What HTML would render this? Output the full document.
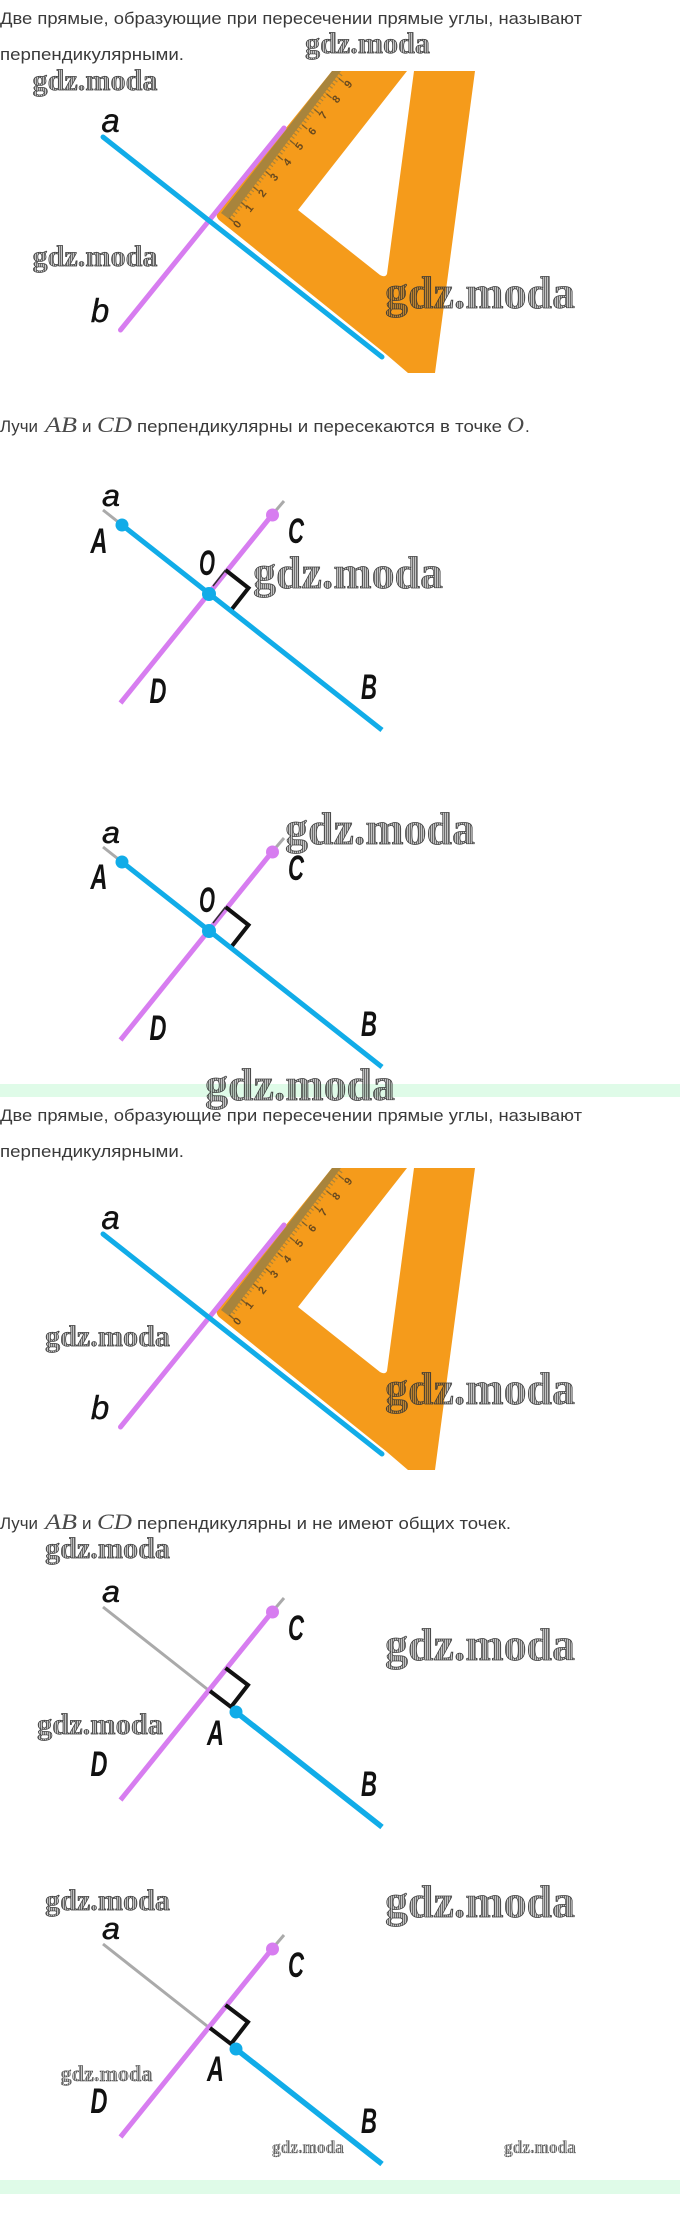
<!DOCTYPE html>
<html>
<head>
<meta charset="utf-8">
<style>
html,body{margin:0;padding:0;background:#fff;width:680px;height:2229px;overflow:hidden}
svg{display:block}
.t{font-family:"Liberation Sans",sans-serif;font-size:17px;fill:#3a3a3a}
.m{font-family:"Liberation Serif",serif;font-style:italic;font-size:22px;fill:#4a4a4a}
.w{font-family:"Liberation Serif",serif;font-weight:700;fill:url(#hatch);stroke:#3a3a3a;stroke-width:.7}
.l{font-family:"Liberation Sans",sans-serif;font-style:italic;font-weight:700;font-size:35px;fill:#111;text-anchor:middle}
.la{font-family:"Liberation Sans",sans-serif;font-style:italic;font-size:31px;fill:#111;stroke:#111;stroke-width:.5;text-anchor:middle}
.n{font-family:"Liberation Sans",sans-serif;font-style:italic;font-size:33px;fill:#111;stroke:#111;stroke-width:.4;text-anchor:middle}
.d{font-family:"Liberation Sans",sans-serif;font-weight:700;font-size:11px;fill:#6a4a1e;text-anchor:middle}
</style>
</head>
<body>
<svg width="680" height="2229" viewBox="0 0 680 2229" xmlns="http://www.w3.org/2000/svg">
<defs>
<pattern id="hatch" width="2" height="2" patternUnits="userSpaceOnUse">
<rect width="2" height="2" fill="#555" fill-opacity=".35"/>
<rect width="1" height="2" fill="#222" fill-opacity=".55"/>
</pattern>
<g id="tri">
<path d="M332,71 L407,71 L298,210 L380,275 Q385,278 387,274 L414,71 L475,71 L435,373 L408,373 L387,355 L219,220 Q215,216 218,212 Z" fill="#f59b1b"/>
<path d="M221,213 L229,219 L341,71 L332,71 Z" fill="#a8843c"/>
<line x1="230" y1="219" x2="342" y2="72" stroke="#a8843c" stroke-width="5" stroke-dasharray="1.2 2.74"/>
<g stroke="#7d5f2a" stroke-width="1.3">
<line x1="229" y1="218" x2="234" y2="222"/>
<line x1="241.2" y1="202.5" x2="246.2" y2="206.5"/>
<line x1="253.4" y1="187" x2="258.4" y2="191"/>
<line x1="265.6" y1="171.5" x2="270.6" y2="175.5"/>
<line x1="277.8" y1="156" x2="282.8" y2="160"/>
<line x1="290" y1="140.5" x2="295" y2="144.5"/>
<line x1="302.2" y1="125" x2="307.2" y2="129"/>
<line x1="314.4" y1="109.5" x2="319.4" y2="113.5"/>
<line x1="326.6" y1="94" x2="331.6" y2="98"/>
<line x1="338.8" y1="78.5" x2="343.8" y2="82.5"/>
</g>
</g>
<g id="lines1">
<line x1="120.5" y1="330" x2="284" y2="128" stroke="#d77df0" stroke-width="5" stroke-linecap="round"/>
<line x1="103" y1="137" x2="382" y2="357" stroke="#11ace8" stroke-width="5" stroke-linecap="round"/>
</g>
<g id="cross">
<line x1="103" y1="137" x2="122" y2="152" stroke="#aaa" stroke-width="3"/>
<line x1="272" y1="142" x2="284" y2="128" stroke="#aaa" stroke-width="3"/>
<line x1="120.5" y1="330" x2="272" y2="142" stroke="#d77df0" stroke-width="5"/>
<path d="M225.5,197 L248.5,215 L232,236" fill="none" stroke="#111" stroke-width="4"/>
<line x1="213" y1="213" x2="225.5" y2="197" stroke="#333" stroke-width="1.5"/>
<line x1="122" y1="152" x2="382" y2="357" stroke="#11ace8" stroke-width="5"/>
<circle cx="122" cy="152" r="6.5" fill="#11ace8"/>
<circle cx="272.5" cy="142" r="6.5" fill="#d77df0"/>
<circle cx="209" cy="221" r="7" fill="#11ace8"/>
</g>
<g id="sep">
<line x1="103" y1="137" x2="209" y2="220.5" stroke="#aaa" stroke-width="3"/>
<line x1="272" y1="142" x2="284" y2="128" stroke="#aaa" stroke-width="3"/>
<line x1="120.5" y1="330" x2="272" y2="142" stroke="#d77df0" stroke-width="5"/>
<path d="M225.5,198 L248,215 L231,237 L210,221" fill="none" stroke="#111" stroke-width="4"/>
<line x1="236" y1="242" x2="382" y2="357" stroke="#11ace8" stroke-width="5.5"/>
<circle cx="236" cy="242" r="6.5" fill="#11ace8"/>
<circle cx="272.5" cy="142" r="6.5" fill="#d77df0"/>
</g>
</defs>

<rect x="0" y="1084" width="680" height="13" fill="#dffbe8"/>
<rect x="0" y="2180" width="680" height="14" fill="#dffbe8"/>

<!-- Figure 1 -->
<text class="t" x="0" y="24" textLength="582" lengthAdjust="spacingAndGlyphs">Две прямые, образующие при пересечении прямые углы, называют</text>
<text class="t" x="0" y="60" textLength="184" lengthAdjust="spacingAndGlyphs">перпендикулярными.</text>
<use href="#tri"/>
<g>
<text class="d" transform="rotate(-52 237 224)" x="237" y="228">0</text>
<text class="d" transform="rotate(-52 249 208)" x="249" y="212">1</text>
<text class="d" transform="rotate(-52 262 193)" x="262" y="197">2</text>
<text class="d" transform="rotate(-52 274 177)" x="274" y="181">3</text>
<text class="d" transform="rotate(-52 287 162)" x="287" y="166">4</text>
<text class="d" transform="rotate(-52 299 146)" x="299" y="150">5</text>
<text class="d" transform="rotate(-52 312 131)" x="312" y="135">6</text>
<text class="d" transform="rotate(-52 323 115)" x="323" y="119">7</text>
<text class="d" transform="rotate(-52 336 99)" x="336" y="103">8</text>
<text class="d" transform="rotate(-52 348 84)" x="348" y="88">9</text>
</g>
<use href="#lines1"/>
<text class="n" x="110.5" y="132">a</text>
<text class="n" x="100" y="322">b</text>

<!-- Figure 2 -->
<text class="t" x="0" y="432" textLength="38" lengthAdjust="spacingAndGlyphs">Лучи</text>
<text class="m" x="45" y="432" textLength="32" lengthAdjust="spacingAndGlyphs">AB</text>
<text class="t" x="82" y="432">и</text>
<text class="m" x="97" y="432" textLength="35" lengthAdjust="spacingAndGlyphs">CD</text>
<text class="t" x="137" y="432" textLength="365" lengthAdjust="spacingAndGlyphs">перпендикулярны и пересекаются в точке</text>
<text class="m" x="507" y="432" textLength="17" lengthAdjust="spacingAndGlyphs">O</text>
<text class="t" x="525" y="432">.</text>
<use href="#cross" y="373"/>
<text class="la" x="111" y="506" textLength="18" lengthAdjust="spacingAndGlyphs">a</text>
<text class="l" x="99" y="553" textLength="17" lengthAdjust="spacingAndGlyphs">A</text>
<text class="l" x="296" y="543" textLength="16" lengthAdjust="spacingAndGlyphs">C</text>
<text class="l" x="207" y="575" textLength="16" lengthAdjust="spacingAndGlyphs">O</text>
<text class="l" x="158" y="703" textLength="17" lengthAdjust="spacingAndGlyphs">D</text>
<text class="l" x="369" y="699" textLength="16" lengthAdjust="spacingAndGlyphs">B</text>

<!-- Figure 3 -->
<use href="#cross" y="710"/>
<text class="la" x="111" y="843" textLength="18" lengthAdjust="spacingAndGlyphs">a</text>
<text class="l" x="99" y="889" textLength="17" lengthAdjust="spacingAndGlyphs">A</text>
<text class="l" x="296" y="880" textLength="16" lengthAdjust="spacingAndGlyphs">C</text>
<text class="l" x="207" y="912" textLength="16" lengthAdjust="spacingAndGlyphs">O</text>
<text class="l" x="158" y="1040" textLength="17" lengthAdjust="spacingAndGlyphs">D</text>
<text class="l" x="369" y="1036" textLength="16" lengthAdjust="spacingAndGlyphs">B</text>

<!-- Figure 4 -->
<text class="t" x="0" y="1121" textLength="582" lengthAdjust="spacingAndGlyphs">Две прямые, образующие при пересечении прямые углы, называют</text>
<text class="t" x="0" y="1157" textLength="184" lengthAdjust="spacingAndGlyphs">перпендикулярными.</text>
<use href="#tri" y="1097"/>
<g>
<text class="d" transform="rotate(-52 237 1321)" x="237" y="1325">0</text>
<text class="d" transform="rotate(-52 249 1305)" x="249" y="1309">1</text>
<text class="d" transform="rotate(-52 262 1290)" x="262" y="1294">2</text>
<text class="d" transform="rotate(-52 274 1274)" x="274" y="1278">3</text>
<text class="d" transform="rotate(-52 287 1259)" x="287" y="1263">4</text>
<text class="d" transform="rotate(-52 299 1243)" x="299" y="1247">5</text>
<text class="d" transform="rotate(-52 312 1228)" x="312" y="1232">6</text>
<text class="d" transform="rotate(-52 323 1212)" x="323" y="1216">7</text>
<text class="d" transform="rotate(-52 336 1196)" x="336" y="1200">8</text>
<text class="d" transform="rotate(-52 348 1181)" x="348" y="1185">9</text>
</g>
<use href="#lines1" y="1097"/>
<text class="n" x="110.5" y="1229">a</text>
<text class="n" x="100" y="1419">b</text>

<!-- Figure 5 -->
<text class="t" x="0" y="1529" textLength="38" lengthAdjust="spacingAndGlyphs">Лучи</text>
<text class="m" x="45" y="1529" textLength="32" lengthAdjust="spacingAndGlyphs">AB</text>
<text class="t" x="82" y="1529">и</text>
<text class="m" x="97" y="1529" textLength="35" lengthAdjust="spacingAndGlyphs">CD</text>
<text class="t" x="137" y="1529" textLength="374" lengthAdjust="spacingAndGlyphs">перпендикулярны и не имеют общих точек.</text>
<use href="#sep" y="1470"/>
<text class="la" x="111" y="1602" textLength="18" lengthAdjust="spacingAndGlyphs">a</text>
<text class="l" x="296" y="1640" textLength="16" lengthAdjust="spacingAndGlyphs">C</text>
<text class="l" x="215.5" y="1745" textLength="17" lengthAdjust="spacingAndGlyphs">A</text>
<text class="l" x="99" y="1776" textLength="17" lengthAdjust="spacingAndGlyphs">D</text>
<text class="l" x="369" y="1796" textLength="16" lengthAdjust="spacingAndGlyphs">B</text>

<!-- Figure 6 -->
<use href="#sep" y="1807"/>
<text class="la" x="111" y="1939" textLength="18" lengthAdjust="spacingAndGlyphs">a</text>
<text class="l" x="296" y="1977" textLength="16" lengthAdjust="spacingAndGlyphs">C</text>
<text class="l" x="215.5" y="2081" textLength="17" lengthAdjust="spacingAndGlyphs">A</text>
<text class="l" x="99" y="2113" textLength="17" lengthAdjust="spacingAndGlyphs">D</text>
<text class="l" x="369" y="2133" textLength="16" lengthAdjust="spacingAndGlyphs">B</text>

<!-- Watermarks -->
<g>
<text class="w" x="305" y="53" font-size="30" textLength="125" lengthAdjust="spacingAndGlyphs">gdz.moda</text>
<text class="w" x="32.5" y="90" font-size="30" textLength="125" lengthAdjust="spacingAndGlyphs">gdz.moda</text>
<text class="w" x="32.5" y="266" font-size="30" textLength="125" lengthAdjust="spacingAndGlyphs">gdz.moda</text>
<text class="w" x="385" y="308" font-size="46" textLength="190" lengthAdjust="spacingAndGlyphs">gdz.moda</text>
<text class="w" x="253" y="588" font-size="46" textLength="190" lengthAdjust="spacingAndGlyphs">gdz.moda</text>
<text class="w" x="285" y="844" font-size="46" textLength="190" lengthAdjust="spacingAndGlyphs">gdz.moda</text>
<text class="w" x="205" y="1100" font-size="46" textLength="190" lengthAdjust="spacingAndGlyphs">gdz.moda</text>
<text class="w" x="45" y="1346" font-size="30" textLength="125" lengthAdjust="spacingAndGlyphs">gdz.moda</text>
<text class="w" x="385" y="1404" font-size="46" textLength="190" lengthAdjust="spacingAndGlyphs">gdz.moda</text>
<text class="w" x="45" y="1558" font-size="30" textLength="125" lengthAdjust="spacingAndGlyphs">gdz.moda</text>
<text class="w" x="37" y="1734" font-size="30" textLength="126" lengthAdjust="spacingAndGlyphs">gdz.moda</text>
<text class="w" x="385" y="1660" font-size="46" textLength="190" lengthAdjust="spacingAndGlyphs">gdz.moda</text>
<text class="w" x="45" y="1910" font-size="30" textLength="125" lengthAdjust="spacingAndGlyphs">gdz.moda</text>
<text class="w" x="385" y="1917" font-size="46" textLength="190" lengthAdjust="spacingAndGlyphs">gdz.moda</text>
<text class="w" x="60.5" y="2081" font-size="22" textLength="92" lengthAdjust="spacingAndGlyphs" style="stroke-width:.4">gdz.moda</text>
<text class="w" x="272" y="2153" font-size="17.5" textLength="72" lengthAdjust="spacingAndGlyphs" style="stroke-width:.3">gdz.moda</text>
<text class="w" x="504" y="2153" font-size="17.5" textLength="72" lengthAdjust="spacingAndGlyphs" style="stroke-width:.3">gdz.moda</text>
</g>
</svg>
</body>
</html>
